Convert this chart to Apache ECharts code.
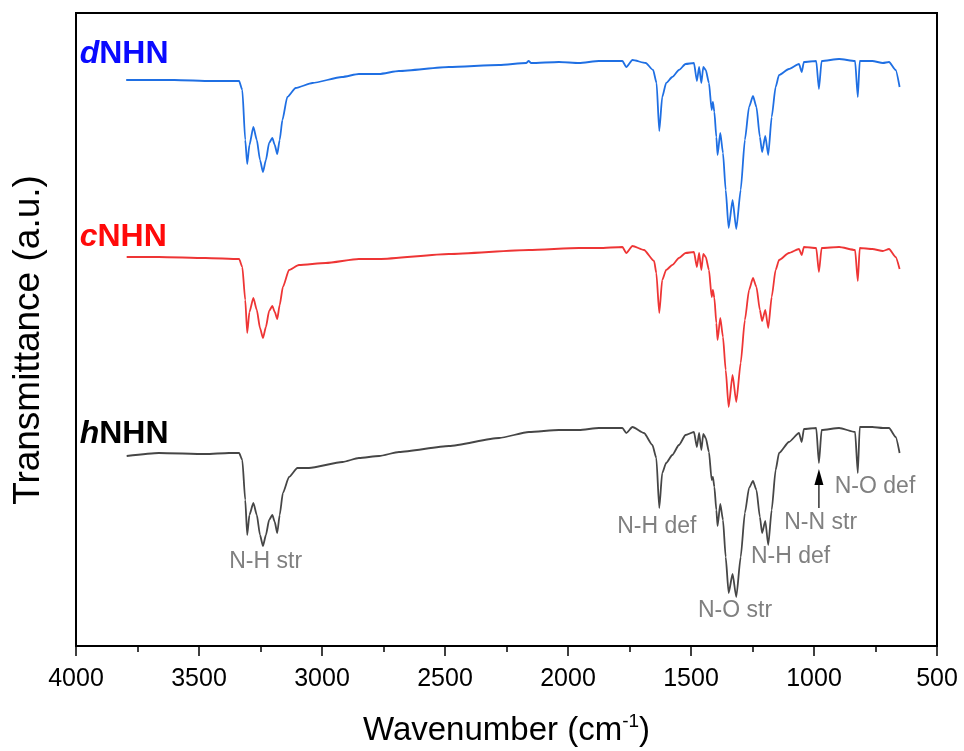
<!DOCTYPE html>
<html>
<head>
<meta charset="utf-8">
<script src="https://cdn.jsdelivr.net/npm/echarts@6/dist/echarts.min.js"></script>
<style>
html,body{margin:0;padding:0;background:#fff;}
#chart{width:964px;height:751px;}
</style>
</head>
<body>
<div id="chart"></div>
<script>
// ---- Data (wavenumber in cm-1, transmittance in offset arbitrary units) ----
const xTicks = [4000, 3500, 3000, 2500, 2000, 1500, 1000, 500];

const dNHN_wn = [3796,3600,3450,3337,3324,3312,3304,3295,3279,3265,3252,3240,3228,3215,3202,3192,3182,3172,3161,3141,3107,3039,2919,2850,2768,2687,2484,2280,2170,2160,2150,2037,1955,1874,1779,1763,1738,1684,1654,1640,1629,1617,1601,1576,1549,1522,1488,1476,1467,1458,1450,1440,1427,1416,1411,1405,1397,1392,1381,1370,1359,1347,1331,1316,1298,1281,1264,1248,1234,1220,1211,1198,1186,1172,1156,1142,1102,1061,1050,1041,991,980,969,898,833,822,814,763,720,695,668,652];
const dNHN_T  = [566,566,565,565,556,506,482,501,519,506,486,474,486,503,508,501,492,506,526,549,558,563,569,572,572,575,579,581,583,585,583,584,583,585,585,579,586,583,576,563,515,549,563,569,576,582,583,565,579,563,579,576,563,536,544,534,509,491,513,493,456,418,446,417,456,506,539,550,539,509,494,510,491,529,559,571,577,582,574,584,585,557,585,587,585,549,585,585,583,584,576,559];

const cNHN_wn = [3794,3663,3473,3337,3324,3312,3304,3295,3279,3265,3252,3240,3228,3215,3202,3192,3182,3172,3159,3134,3094,2985,2850,2768,2484,2159,1955,1874,1779,1763,1738,1691,1650,1641,1629,1617,1601,1576,1549,1522,1488,1476,1467,1458,1450,1440,1427,1416,1411,1405,1397,1392,1381,1370,1359,1347,1331,1316,1298,1281,1264,1248,1234,1220,1211,1198,1186,1172,1156,1142,1102,1061,1050,1041,991,980,969,898,833,822,814,763,720,695,668,652];
const cNHN_T  = [389,389,388,387,379,346,313,334,348,336,318,308,319,335,340,334,327,341,359,376,381,383,387,387,392,396,398,398,399,393,400,396,385,373,333,366,376,381,388,393,394,379,393,376,392,389,376,349,356,348,323,306,328,309,276,239,271,244,283,326,356,368,359,336,325,336,318,349,376,386,393,397,391,399,398,374,398,399,396,365,398,397,395,397,389,377];

const hNHN_wn = [3794,3663,3473,3378,3337,3324,3312,3304,3295,3279,3265,3252,3240,3228,3215,3202,3192,3182,3172,3159,3134,3100,3053,2917,2850,2768,2687,2484,2280,2159,2037,1955,1874,1779,1763,1738,1691,1657,1641,1629,1617,1601,1576,1549,1522,1488,1476,1467,1458,1450,1440,1427,1416,1411,1405,1397,1392,1381,1370,1359,1347,1331,1316,1298,1281,1264,1248,1234,1220,1211,1198,1186,1172,1156,1142,1102,1061,1050,1041,991,980,969,898,833,822,814,763,720,695,668,652];
const hNHN_T  = [190,193,192,193,193,186,146,111,131,143,131,111,100,111,126,131,124,113,131,153,169,178,178,184,188,190,194,200,208,214,216,216,218,218,213,219,213,201,188,138,173,183,191,201,211,214,199,213,196,212,208,194,166,169,159,136,120,142,126,89,53,72,49,89,133,158,165,156,129,113,125,101,136,176,193,204,213,204,217,218,183,216,218,214,173,219,219,218,218,209,193];

// Sample names and their anchor (wavenumber, a.u.)
const sampleNames = ['d', 'c', 'h'];
const sampleAnchors = [[3985, 592], [3985, 409], [3985, 212]];

// Band assignments: text, wavenumber, a.u. (text centre)
const bandTexts = ['N-H str', 'N-H def', 'N-O str', 'N-H def', 'N-N str', 'N-O def'];
const bandWn    = [3229, 1639, 1321, 1095, 973, 752];
const bandAU    = [84, 119, 35, 89, 123, 159];
// arrow pointing to N-N str band: wavenumber, from a.u., to a.u.
const arrowWn = 980, arrowFrom = 138, arrowTo = 177;

function zip(a, b) { return a.map((v, i) => [v, b[i]]); }

const FONT = '"Liberation Sans", Arial, Helvetica, sans-serif';
const chart = echarts.init(document.getElementById('chart'), null, {renderer: 'canvas'});

const lineCommon = {type: 'line', showSymbol: false, symbol: 'none', smooth: 0.2, smoothMonotone: 'x'};

chart.setOption({
  animation: false,
  backgroundColor: '#ffffff',
  grid: {left: 76, right: 27, top: 13, bottom: 105, show: true, borderColor: '#000', borderWidth: 2,
    backgroundColor: 'transparent', containLabel: false, outerBoundsMode: 'none'},
  xAxis: {
    type: 'value', min: 500, max: 4000, interval: 500, inverse: true,
    axisLine: {show: true, onZero: false, lineStyle: {color: '#000', width: 2}},
    axisTick: {show: true, inside: false, length: 10, lineStyle: {color: '#000', width: 1.5}},
    minorTick: {show: true, splitNumber: 2, length: 6, lineStyle: {color: '#000', width: 1.5}},
    splitLine: {show: false},
    axisLabel: {color: '#000', fontSize: 25, fontFamily: FONT, margin: 21,
      formatter: (v) => String(v)},
    name: 'Wavenumber (cm{sup|-1})',
    nameLocation: 'middle', nameGap: 66,
    nameTextStyle: {color: '#000', fontSize: 33, fontFamily: FONT,
      rich: {sup: {fontSize: 19, fontFamily: FONT, color: '#000', verticalAlign: 'top', padding: [0, 0, 18, 0]}}}
  },
  yAxis: {
    type: 'value', min: 0, max: 633,
    axisLine: {show: true, lineStyle: {color: '#000', width: 2}},
    axisTick: {show: false}, axisLabel: {show: false}, splitLine: {show: false}
  },
  series: [
    Object.assign({name: 'dNHN', data: zip(dNHN_wn, dNHN_T),
     lineStyle: {color: '#1f6fe3', width: 1.8}, itemStyle: {color: '#1f6fe3'}}, lineCommon),
    Object.assign({name: 'cNHN', data: zip(cNHN_wn, cNHN_T),
     lineStyle: {color: '#ee3535', width: 1.8}, itemStyle: {color: '#ee3535'}}, lineCommon),
    Object.assign({name: 'hNHN', data: zip(hNHN_wn, hNHN_T),
     lineStyle: {color: '#464646', width: 1.8}, itemStyle: {color: '#464646'}}, lineCommon)
  ]
});

const px = (p) => chart.convertToPixel({xAxisIndex: 0, yAxisIndex: 0}, p);
const nameColors = ['#0a0aff', '#ff0a0a', '#000000'];
const graphics = [];
// y axis title
graphics.push({type: 'text', x: 29, y: 340, rotation: Math.PI / 2, silent: true,
  style: {text: 'Transmittance (a.u.)', align: 'center', verticalAlign: 'middle',
    fontSize: 37, fontFamily: FONT, fill: '#000'}});
sampleNames.forEach((s, i) => {
  const p = px(sampleAnchors[i]);
  graphics.push({type: 'text', x: p[0], y: p[1], silent: true,
    style: {text: '{i|' + s + '}{b|NHN}', align: 'left', verticalAlign: 'middle',
      rich: {
        i: {fontSize: 32, fontWeight: 'bold', fontStyle: 'italic', fontFamily: FONT, fill: nameColors[i]},
        b: {fontSize: 32, fontWeight: 'bold', fontFamily: FONT, fill: nameColors[i]}
      }}});
});
bandTexts.forEach((t, i) => {
  const p = px([bandWn[i], bandAU[i]]);
  graphics.push({type: 'text', x: p[0], y: p[1], silent: true,
    style: {text: t, align: 'center', verticalAlign: 'middle', fontSize: 23, fontFamily: FONT, fill: '#808080'}});
});
const a0 = px([arrowWn, arrowFrom]), a1 = px([arrowWn, arrowTo]);
graphics.push({type: 'line', silent: true, shape: {x1: a0[0], y1: a0[1], x2: a1[0], y2: a1[1] + 14},
  style: {stroke: '#000', lineWidth: 1.2}});
graphics.push({type: 'polygon', silent: true,
  shape: {points: [[a1[0], a1[1]], [a1[0] - 4.5, a1[1] + 16], [a1[0] + 4.5, a1[1] + 16]]},
  style: {fill: '#000'}});
chart.setOption({graphic: graphics});
</script>
</body>
</html>
